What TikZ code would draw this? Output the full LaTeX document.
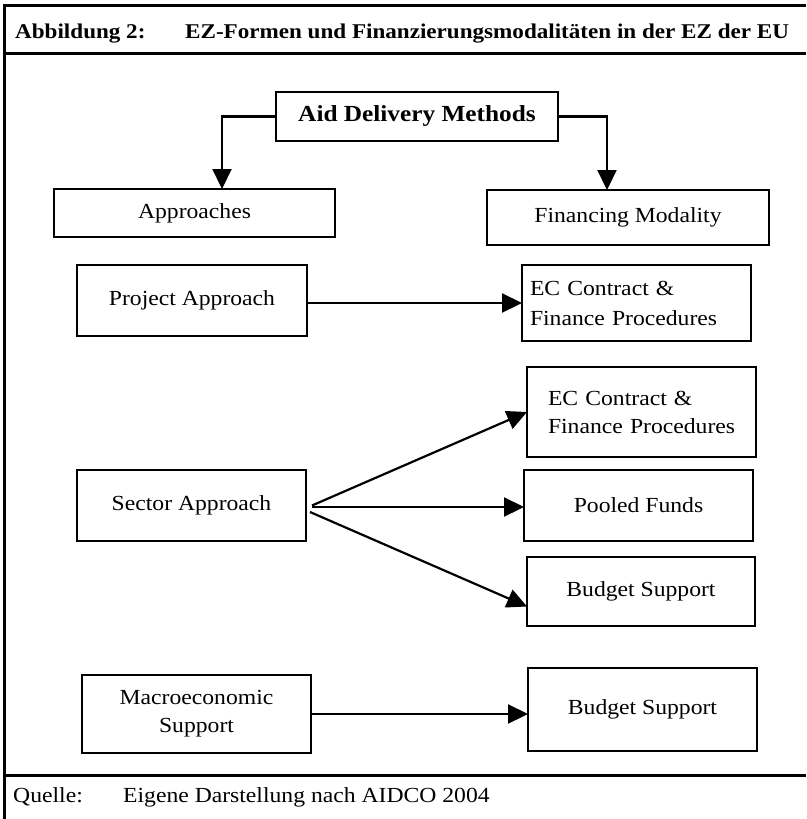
\documentclass[tikz,border=0pt]{standalone}
\usepackage{fontspec}
\setmainfont{Liberation Serif}[FakeStretch=1.1]
\usetikzlibrary{arrows.meta,calc}
\begin{document}
\begin{tikzpicture}[x=1pt,y=-1pt,
  box/.style={draw,line width=2.2pt,inner sep=0pt,outer sep=0pt,
    font=\fontsize{21.5}{30}\selectfont,align=center},
  lbox/.style={box,align=left},
  conn/.style={line width=2.2pt,-{Triangle[length=20pt,width=19pt]}},
  frameline/.style={line width=3pt},
  txt/.style={anchor=base west,inner sep=0pt,font=\fontsize{21.5}{25}\selectfont},
  ttl/.style={anchor=base west,inner sep=0pt,font=\fontsize{21}{25}\bfseries\selectfont}]
\useasboundingbox (0,0) rectangle (806,819);
% frame
\draw[frameline] (4,819) -- (4,5) -- (806,5);
\draw[frameline] (4,53) -- (806,53);
\draw[frameline] (4,775) -- (806,775);
% title and source
\node[ttl] (t1) at (15,38) {Abbildung 2:};
\node[ttl] (t2) at (185,38) {EZ-Formen und Finanzierungsmodalitäten in der EZ der EU};
\node[txt] (q1) at (13,802) {Quelle:};
\node[txt] (q2) at (123,802) {Eigene Darstellung nach AIDCO 2004};
% boxes
\node[box,font=\fontsize{23}{28}\bfseries\selectfont,minimum width=282pt,minimum height=49pt] (aid) at (417,116.5) {Aid Delivery Methods};
\node[box,minimum width=281pt,minimum height=48pt] (app) at (194.5,213) {Approaches};
\node[box,minimum width=282pt,minimum height=55pt] (fin) at (628,217.5) {Financing Modality};
\node[box,minimum width=230pt,minimum height=71pt] (proj) at (192,300.5) {Project Approach};
\node[lbox,inner xsep=8pt,text width=213pt,minimum height=76pt] (ec1) at (636.5,303) {EC Contract \&\\\mbox{Finance Procedures}};
\node[lbox,font=\fontsize{21.5}{28}\selectfont,inner xsep=21pt,text width=187pt,minimum height=90pt] (ec2) at (641.5,412) {EC Contract \&\\\mbox{Finance Procedures}\\[4pt]};
\node[box,minimum width=229pt,minimum height=71pt] (sec) at (191.5,505.5) {Sector Approach};
\node[box,minimum width=229pt,minimum height=71pt] (pool) at (638.5,505.5) {Pooled Funds};
\node[box,minimum width=228pt,minimum height=69pt] (b1) at (641,591.5) {Budget Support};
\node[box,font=\fontsize{21.5}{28}\selectfont,minimum width=229pt,minimum height=78pt] (mac) at (196.5,714) {Macroeconomic\\Support};
\node[box,minimum width=229pt,minimum height=83pt] (b2) at (642.5,709.5) {Budget Support};
% connectors
\draw[conn] (aid.west) -| ([xshift=27.5pt]app.north);
\draw[conn] (aid.east) -| ([xshift=-21pt]fin.north);
\draw[conn] (proj.east |- ec1.west) -- (ec1.west);
\draw[conn] ([xshift=6pt]sec.east) -- (ec2.west);
\draw[conn] ([xshift=6pt,yshift=-1.5pt]sec.east) -- ([yshift=-1.5pt]pool.west);
\draw[conn] ([xshift=4pt,yshift=-6.5pt]sec.east) -- ([yshift=-15pt]b1.west);
\draw[conn] (mac.east) -- (mac.east -| b2.west);
\end{tikzpicture}
\end{document}
